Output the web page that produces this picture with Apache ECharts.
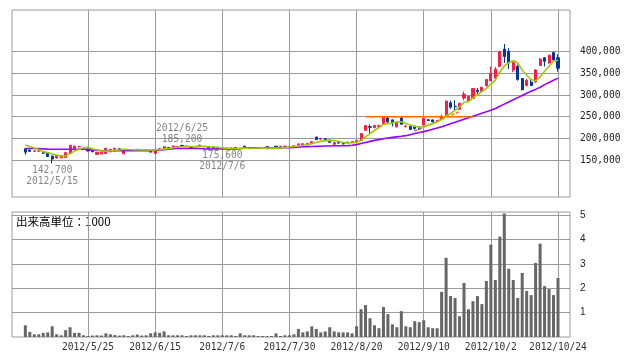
<!DOCTYPE html>
<html><head><meta charset="utf-8">
<script src="https://cdn.jsdelivr.net/npm/echarts@6/dist/echarts.min.js"></script>
<style>html,body{margin:0;padding:0;background:#fff}#c{width:638px;height:362px}</style>
</head><body><div id="c"></div><script>
const dates = ['2012/5/7','2012/5/8','2012/5/9','2012/5/10','2012/5/11','2012/5/14','2012/5/15','2012/5/16','2012/5/17','2012/5/18','2012/5/21','2012/5/22','2012/5/23','2012/5/24','2012/5/25','2012/5/28','2012/5/29','2012/5/30','2012/5/31',
'2012/6/1','2012/6/4','2012/6/5','2012/6/6','2012/6/7','2012/6/8','2012/6/11','2012/6/12','2012/6/13','2012/6/14','2012/6/15','2012/6/18','2012/6/19','2012/6/20','2012/6/21','2012/6/22','2012/6/25','2012/6/26','2012/6/27','2012/6/28','2012/6/29',
'2012/7/2','2012/7/3','2012/7/4','2012/7/5','2012/7/6','2012/7/9','2012/7/10','2012/7/11','2012/7/12','2012/7/13','2012/7/17','2012/7/18','2012/7/19','2012/7/20','2012/7/23','2012/7/24','2012/7/25','2012/7/26','2012/7/27','2012/7/30','2012/7/31',
'2012/8/1','2012/8/2','2012/8/3','2012/8/6','2012/8/7','2012/8/8','2012/8/9','2012/8/10','2012/8/13','2012/8/14','2012/8/15','2012/8/16','2012/8/17','2012/8/20','2012/8/21','2012/8/22','2012/8/23','2012/8/24','2012/8/27','2012/8/28','2012/8/29','2012/8/30','2012/8/31',
'2012/9/3','2012/9/4','2012/9/5','2012/9/6','2012/9/7','2012/9/10','2012/9/11','2012/9/12','2012/9/13','2012/9/14','2012/9/18','2012/9/19','2012/9/20','2012/9/21','2012/9/24','2012/9/25','2012/9/26','2012/9/27','2012/9/28',
'2012/10/1','2012/10/2','2012/10/3','2012/10/4','2012/10/5','2012/10/9','2012/10/10','2012/10/11','2012/10/12','2012/10/15','2012/10/16','2012/10/17','2012/10/18','2012/10/19','2012/10/22','2012/10/23','2012/10/24'];

const open = [176000,173000,170000,170500,169000,167000,159000,155000,155000,156000,
165400,177000,180500,177000,176000,172000,163000,164000,165000,169000,
171500,176000,164600,173000,174000,174600,173000,173000,168000,165400,
173000,174600,179000,177000,180000,183500,181000,181000,180000,181000,
180500,181000,180000,177000,177500,177000,177500,179000,176500,182000,
179000,177500,178000,178000,181000,176000,182000,177000,179500,181000,
180000,184000,184000,185800,188500,203000,198000,199000,196000,186500,
190000,188000,191000,190000,191600,195000,218600,227000,225000,226500,
233000,247000,242600,226500,247000,227500,228000,226000,226000,230600,
243000,242600,240000,243400,251000,282000,274000,267000,293000,286000,
292000,311000,308000,321000,333000,339000,366000,406000,401000,358000,
366000,338000,322000,330000,330000,368000,386000,374000,398000,386000];
const close = [168000,170000,171000,171000,165500,158000,152300,160000,160000,167000,
184000,182000,181000,177500,171000,169000,168000,167000,177000,174600,
177000,172000,173000,174000,173000,174000,173500,173200,171500,174600,
176000,180700,178000,182300,181000,181500,182500,179000,181000,184600,
181000,177000,177000,177500,177000,177500,177200,176000,177000,179500,
176000,178000,177600,178200,176000,178500,177000,182000,182000,181500,
183000,186500,187500,188000,192400,197000,200000,196500,190700,190000,
189000,187000,190000,192500,195000,211000,229500,225500,229500,229000,
248000,238000,235000,238000,232600,228500,220600,223000,221400,246000,
241000,238000,241500,251000,286000,272000,273000,281000,302000,297000,
315000,308000,318000,336000,350000,360000,400000,389000,374000,375000,
336000,312000,334000,322000,358000,383000,378000,392000,381000,362000];
const low = [162000,169000,169500,169500,164500,157000,142700,153000,154000,155000,
164000,176000,179000,176000,170000,168000,162000,163000,164000,168000,
169000,171000,163500,172500,172500,173500,172500,172500,167000,165000,
172000,174000,177500,176500,179500,181000,180000,178500,179500,180000,
180000,176500,176500,176500,175600,176500,176500,175800,176000,179000,
175800,177000,177000,177500,175800,175800,176500,176500,179000,180000,
179500,182000,183500,185000,188000,196000,197000,195000,190000,184000,
188000,186000,189000,189500,191000,194500,218000,212000,223000,225000,
232000,236000,227600,225000,231000,225000,220000,219000,220000,230000,
240000,237000,239000,242000,250000,268000,265000,266000,288000,284000,
291000,302000,306000,320000,332000,337000,365000,374000,360000,353000,
333000,311000,320000,321000,328000,367000,366000,372000,379000,354000];
const high = [177000,174000,172000,172000,170000,168000,160000,161000,161000,168000,
184800,183000,183000,178000,177000,173000,169000,168000,178000,175000,
178000,177000,174000,174500,174500,175000,174000,174000,172000,175000,
178000,181000,180000,183000,182000,185200,183000,182000,182000,184800,
182000,181500,180500,178000,178500,178000,178000,179500,178000,182500,
179500,178500,178500,179000,181500,179000,182500,182500,183000,182000,
183500,189000,188000,189000,193000,204000,201000,200500,197000,191000,
191000,189000,192000,193000,196000,212000,230000,232000,231000,232000,
249000,249000,244000,239000,248000,231000,229000,228000,227000,247000,
244000,243500,242500,255000,287000,287000,288000,282000,308000,299000,
316000,316000,319000,337000,366000,365000,402000,418000,408000,378000,
370000,339000,337000,337000,360000,385000,387000,393000,400000,394000];
const volume = [0.48,0.21,0.11,0.11,0.17,0.19,0.44,0.11,0.07,0.28,
0.40,0.17,0.17,0.07,0.04,0.06,0.07,0.06,0.15,0.11,
0.08,0.06,0.07,0.04,0.07,0.10,0.06,0.07,0.15,0.19,
0.17,0.23,0.07,0.07,0.07,0.07,0.04,0.07,0.07,0.07,
0.07,0.04,0.07,0.07,0.07,0.07,0.07,0.04,0.15,0.07,
0.07,0.07,0.04,0.04,0.04,0.04,0.15,0.04,0.07,0.07,
0.11,0.33,0.19,0.23,0.44,0.33,0.19,0.23,0.40,0.23,
0.19,0.19,0.19,0.15,0.44,1.14,1.31,0.77,0.48,0.36,
1.23,0.94,0.52,0.40,1.06,0.44,0.40,0.65,0.61,0.69,
0.40,0.36,0.36,1.85,3.25,1.68,1.60,0.85,2.22,1.14,
1.47,1.68,1.35,2.30,3.79,2.34,4.12,5.07,2.80,2.34,
1.60,2.63,1.89,1.72,3.04,3.83,2.09,1.97,1.72,2.42];
const ma5 = [184600,181000,177500,174000,169100,167100,163600,161400,159200,159500,
164700,170600,174800,178300,179100,176100,173300,170500,170400,171100,
172700,173500,174700,174100,173800,173200,173500,173500,173000,173400,
173800,175200,176200,178300,179600,180700,181100,181300,181000,181700,
181600,180500,180100,179400,177900,177200,177200,177000,176900,177400,
177100,177300,177600,177900,177200,177700,177500,178300,179100,180200,
181100,183000,184100,185300,187500,190300,193000,194800,195300,194800,
193200,190600,189300,189700,190700,195100,203600,210700,218100,224900,
232300,234000,235900,237600,238300,234400,230900,228500,225200,227900,
230400,233900,237600,243500,251500,257700,264700,272600,282800,285000,
293600,300600,308000,314800,325400,334400,352800,367000,374600,379600,
374800,357200,346200,335800,332400,341800,355000,366600,378400,380500];
const ma25 = [176500,176500,176500,176200,175800,175200,174800,174800,174800,174800,
174800,174800,174800,174800,174000,173200,172500,171800,171500,171500,
171500,171500,171500,171500,171500,171500,171500,171500,171500,171800,
172500,173800,174800,176000,176500,176500,176500,176500,176500,176500,
175800,175500,175500,175500,175500,175500,175500,175500,176000,177800,
178200,178200,178200,178200,178200,178200,178200,178200,178300,178500,
178800,179500,180500,181000,181200,181500,181800,182200,182500,182800,
183000,183000,183200,184000,185500,188000,190500,193000,195300,197000,
199000,200800,202200,203500,204800,206200,208500,211000,213500,215500,
218000,221000,224000,227000,230000,233500,237000,240500,244000,247500,
251000,254500,258000,261500,265000,269000,274000,279000,284000,289000,
294000,299000,304000,308500,313000,318000,324000,329000,334000,339000];
const gridDates = ['2012/5/25','2012/6/15','2012/7/6','2012/7/30','2012/8/20','2012/9/10','2012/10/2','2012/10/24'];
const priceTicks = [150000,200000,250000,300000,350000,400000];
const volumeTicks = [1,2,3,4,5];
const noteDates = ['2012/5/15','2012/6/25','2012/7/6'];
const notePrices = [142700,185200,175600];
const noteSides = ['low','high','low'];
const resistanceDates = ['2012/8/22','2012/9/26'];
const resistancePrices = [250000,250000];
const supportDates = ['2012/9/6','2012/9/21'];
const supportPrices = [217000,262000];
const volumeUnit = '出来高単位：1000';

const idx = d => dates.indexOf(d);
const gridIdx = gridDates.map(idx);
const fmt = v => Number(v).toLocaleString('en-US');
const MONO = '"DejaVu Sans Mono", monospace';
const GRIDC = '#9a9a9a';
const RED = '#ff1a4b', BLUE = '#00379c';

const candles = dates.map((d,i)=>[i,open[i],close[i],low[i],high[i]]);
const xRange = {min:-2.98, max:121.68};

function xAxisFor(g, showLabel){
  return {type:'value', gridIndex:g, min:xRange.min, max:xRange.max,
    axisLine:{show:false},
    axisTick:{show:false, customValues:gridIdx},
    splitLine:{show:true, lineStyle:{color:GRIDC, width:1}},
    axisLabel:{show:showLabel, customValues:gridIdx, formatter:v=>dates[Math.round(v)],
      color:'#333', fontFamily:MONO, fontSize:9.6, margin:5}};
}

const chart = echarts.init(document.getElementById('c'), null, {renderer:'canvas'});
chart.setOption({
  animation:false,
  backgroundColor:'#fff',
  grid:[
    {left:12, top:10, width:558, height:187, show:true, borderColor:GRIDC, borderWidth:1, backgroundColor:'transparent'},
    {left:12, top:212, width:558, height:125, show:true, borderColor:GRIDC, borderWidth:1, backgroundColor:'transparent'}
  ],
  xAxis:[xAxisFor(0,false), xAxisFor(1,true)],
  yAxis:[
    {type:'value', gridIndex:0, position:'right', min:64600, max:496300,
      axisLine:{show:false},
      axisTick:{show:true, customValues:priceTicks, length:3, lineStyle:{color:GRIDC}},
      axisLabel:{customValues:priceTicks, formatter:fmt, margin:10, color:'#222', fontFamily:MONO, fontSize:9.6},
      splitLine:{show:true, lineStyle:{color:GRIDC}}},
    {type:'value', gridIndex:1, position:'right', min:0, max:5.13,
      axisLine:{show:false},
      axisTick:{show:true, customValues:volumeTicks, length:3, lineStyle:{color:GRIDC}},
      axisLabel:{customValues:volumeTicks, formatter:v=>String(v), margin:10, color:'#222', fontFamily:'"Liberation Sans", Arial, sans-serif', fontSize:10},
      splitLine:{show:true, lineStyle:{color:GRIDC}}}
  ],
  series:[
    {type:'candlestick', xAxisIndex:0, yAxisIndex:0, data:candles, encode:{x:0, y:[1,2,3,4]},
      barWidth:2.6, itemStyle:{color:RED, color0:BLUE, borderColor:RED, borderColor0:BLUE, borderWidth:1}, z:2},
    {type:'line', xAxisIndex:0, yAxisIndex:0, data:dates.map((d,i)=>[i,ma25[i]]), symbol:'none',
      lineStyle:{color:'#9900ff', width:1.6}, z:3},
    {type:'line', xAxisIndex:0, yAxisIndex:0, data:dates.map((d,i)=>[i,ma5[i]]), symbol:'none',
      lineStyle:{color:'#99cc00', width:1.6}, z:4},
    {type:'line', xAxisIndex:0, yAxisIndex:0, data:resistanceDates.map((d,k)=>[idx(d),resistancePrices[k]]), symbol:'none',
      lineStyle:{color:'#ff6600', width:1.4}, z:3},
    {type:'line', xAxisIndex:0, yAxisIndex:0, data:supportDates.map((d,k)=>[idx(d),supportPrices[k]]), symbol:'none',
      lineStyle:{color:'#ff6600', width:1.4, type:[3,2]}, z:3},
    {type:'scatter', xAxisIndex:0, yAxisIndex:0, symbolSize:0, z:5,
      data:noteDates.map((d,k)=>({value:[idx(d),notePrices[k]],
        label:{show:true, position:noteSides[k]==='low'?'bottom':'top', distance:noteSides[k]==='low'?1.5:0,
          formatter: noteSides[k]==='low' ? fmt(notePrices[k])+'\n'+d : d+'\n'+fmt(notePrices[k]),
          color:'#666', fontFamily:MONO, fontSize:9.6, lineHeight:11, align:'center'}}))},
    {type:'bar', xAxisIndex:1, yAxisIndex:1, data:dates.map((d,i)=>[i,volume[i]]), barWidth:3,
      itemStyle:{color:'#666'}}
  ],
  graphic:[{type:'text', left:16, top:216, style:{text:volumeUnit, font:'11.5px "Noto Sans CJK JP"', fill:'#000'}}]
});
</script></body></html>
